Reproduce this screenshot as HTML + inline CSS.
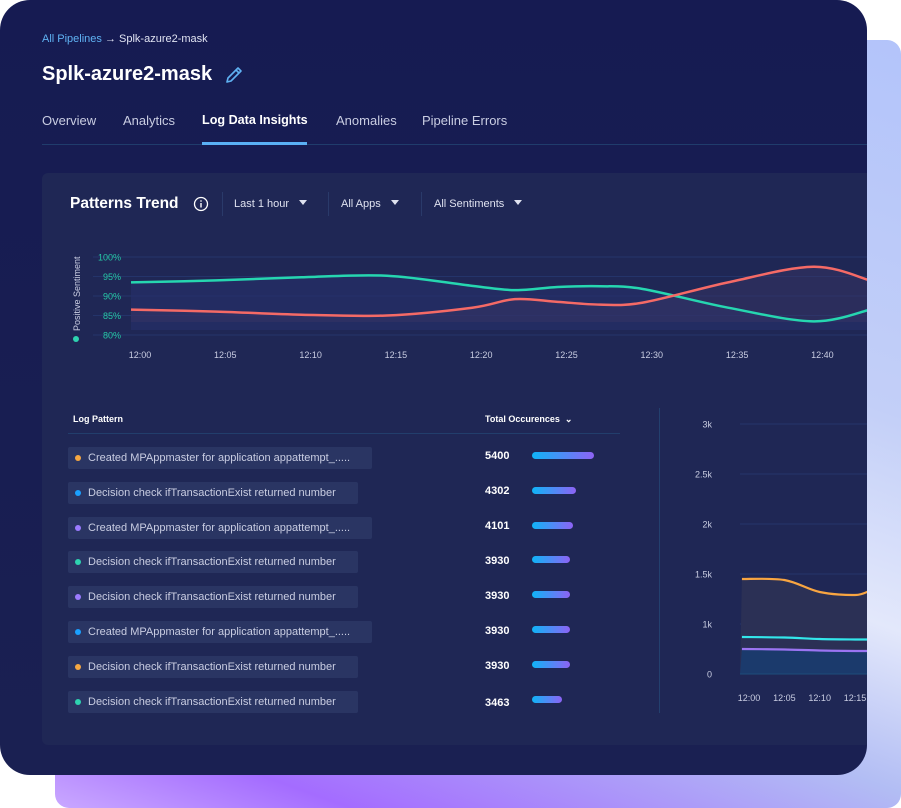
<!DOCTYPE html>
<html><head><meta charset="utf-8">
<style>
*{box-sizing:border-box;margin:0;padding:0}
body{width:901px;height:808px;background:#fff;position:relative;overflow:hidden;font-family:"Liberation Sans",sans-serif}
.abs{position:absolute}
#bgcard{left:55px;top:40px;width:846px;height:768px;border-radius:14px;background:linear-gradient(200deg,#b3c4fa 0%,#c3cff8 35%,#e3e8fb 55%,#b2bdf4 70%,#a46cff 90%,#c9a8ff 100%)}
#main{left:0;top:0;width:867px;height:775px;border-radius:30px;background:linear-gradient(180deg,#161b52 0%,#1a2052 100%);overflow:hidden}
#panel{left:42px;top:173px;width:840px;height:572px;border-radius:6px;background:#1f2755}
.t{position:absolute;white-space:nowrap}
.pill{position:absolute;left:68px;height:22px;background:#2a3563;border-radius:2px;color:#c9cde2;font-size:11px;line-height:22px;padding-left:20px}
.pill i{position:absolute;left:7px;top:8px;width:6px;height:6px;border-radius:50%}
.num{position:absolute;left:485px;color:#fff;font-weight:bold;font-size:11px;line-height:12px}
.bar{position:absolute;left:532px;height:7px;border-radius:4px;background:linear-gradient(90deg,#0fb4f7,#8d63f5)}
.tri{display:inline-block;width:0;height:0;border-left:4px solid transparent;border-right:4px solid transparent;border-top:5px solid #dfe2f0;margin-left:10px;vertical-align:2px}
</style></head><body>
<div id="bgcard" class="abs"></div>
<div id="main" class="abs">
  <div class="t" style="left:42px;top:33px;font-size:11px;color:#e0e3f2"><span style="color:#5fb2f3">All Pipelines</span> → Splk-azure2-mask</div>
  <div class="t" style="left:42px;top:63px;font-size:20px;font-weight:bold;color:#fff">Splk-azure2-mask</div>
  <svg class="abs" style="left:224px;top:65px" width="20" height="20" viewBox="0 0 20 20"><path d="M3 17 L4 13 L14 3 L17 6 L7 16 Z M12 5 L15 8" fill="none" stroke="#5fb2f3" stroke-width="1.6" stroke-linejoin="round"/></svg>
  <div class="t" style="left:42px;top:113px;font-size:13px;color:#c9cde2">Overview</div>
  <div class="t" style="left:123px;top:113px;font-size:13px;color:#c9cde2">Analytics</div>
  <div class="t" style="left:202px;top:113px;font-size:12.6px;color:#fff;font-weight:bold">Log Data Insights</div>
  <div class="t" style="left:336px;top:113px;font-size:13px;color:#c9cde2">Anomalies</div>
  <div class="t" style="left:422px;top:113px;font-size:13px;color:#c9cde2">Pipeline Errors</div>
  <div class="abs" style="left:42px;top:144px;width:830px;height:1px;background:#203c6c"></div>
  <div class="abs" style="left:202px;top:142px;width:105px;height:3px;background:#5ab0f5"></div>

  <div id="panel" class="abs"></div>
  <div class="t" style="left:70px;top:195px;font-size:15.5px;font-weight:bold;color:#fff">Patterns Trend</div>
  <svg class="abs" style="left:193px;top:196px" width="16" height="16"><circle cx="8" cy="8" r="6.5" fill="none" stroke="#fff" stroke-width="1.3"/><rect x="7.3" y="7" width="1.4" height="4.5" fill="#fff"/><rect x="7.3" y="4.3" width="1.4" height="1.4" fill="#fff"/></svg>
  <div class="abs" style="left:222px;top:192px;width:1px;height:24px;background:#2a3a6a"></div>
  <div class="abs" style="left:328px;top:192px;width:1px;height:24px;background:#2a3a6a"></div>
  <div class="abs" style="left:421px;top:192px;width:1px;height:24px;background:#2a3a6a"></div>
  <div class="t" style="left:234px;top:198px;font-size:11px;color:#dfe2f0">Last 1 hour<span class="tri"></span></div>
  <div class="t" style="left:341px;top:198px;font-size:11px;color:#dfe2f0">All Apps<span class="tri"></span></div>
  <div class="t" style="left:434px;top:198px;font-size:11px;color:#dfe2f0">All Sentiments<span class="tri"></span></div>

  <svg id="trend" class="abs" style="left:0;top:0" width="867" height="775"></svg>

  <div class="t" style="left:73px;top:414px;font-size:9px;font-weight:bold;color:#fff">Log Pattern</div>
  <div class="t" style="left:485px;top:414px;font-size:9px;font-weight:bold;color:#fff">Total Occurences &nbsp;⌄</div>
  <div class="abs" style="left:68px;top:433px;width:552px;height:1px;background:#223e6c"></div>
  <div id="rows"></div>
  <div class="abs" style="left:659px;top:408px;width:1px;height:305px;background:#23406e"></div>
</div>
<script>
// ---- Patterns trend data ----
const trendMinutes=[0,5,10,15,20,22.5,25,27.5,30,35,40,43];
const positiveSentiment=[93.5,94,94.8,95.2,92.6,91.5,92.3,92.5,91.8,87,83.5,86.5];
const negativeSeries=[86.5,86,85.2,85,87,89.2,88.5,87.8,88.3,93.5,97.5,94];
const trendYTicks=[100,95,90,85,80];
const trendXTicks=['12:00','12:05','12:10','12:15','12:20','12:25','12:30','12:35','12:40'];
// ---- Occurrence chart data ----
const occMinutes=[-1,5,10,15,17];
const occOrange=[1450,1440,1320,1290,1330];
const occCyan=[740,730,700,690,690];
const occPurple=[500,490,470,460,460];
const occYTicks=[0,1000,1500,2000,2500,3000];
const occYLabels=['0','1k','1.5k','2k','2.5k','3k'];
const occXTicks=['12:00','12:05','12:10','12:15'];
// ---- Table data ----
const patterns=['Created MPAppmaster for application appattempt_.....','Decision check ifTransactionExist returned number','Created MPAppmaster for application appattempt_.....','Decision check ifTransactionExist returned number','Decision check ifTransactionExist returned number','Created MPAppmaster for application appattempt_.....','Decision check ifTransactionExist returned number','Decision check ifTransactionExist returned number'];
const occurrences=[5400,4302,4101,3930,3930,3930,3930,3463];
const dotColors=['#f5a742','#1aa0ff','#9b7bff','#2ed3b0','#9b7bff','#1aa0ff','#f5a742','#2ed3b0'];

const NS='http://www.w3.org/2000/svg';
const svg=document.getElementById('trend');
function mk(tag,attrs,parent){const e=document.createElementNS(NS,tag);for(const k in attrs)e.setAttribute(k,attrs[k]);(parent||svg).appendChild(e);return e;}
function smooth(pts){let d='M'+pts[0][0]+','+pts[0][1];for(let i=0;i<pts.length-1;i++){const p0=pts[i-1]||pts[i],p1=pts[i],p2=pts[i+1],p3=pts[i+2]||p2;const c1=[p1[0]+(p2[0]-p0[0])/6,p1[1]+(p2[1]-p0[1])/6],c2=[p2[0]-(p3[0]-p1[0])/6,p2[1]-(p3[1]-p1[1])/6];d+=' C'+c1+' '+c2+' '+p2;}return d;}

// trend axes
const tx=m=>140+m*17.06, ty=v=>335-(v-80)*3.9;
trendYTicks.forEach(v=>{
  const l=mk('line',{x1:93,x2:867,y1:ty(v),y2:ty(v),stroke:'#24346a','stroke-width':1});
  
  
  const t=mk('text',{x:121,y:ty(v)+3.5,'text-anchor':'end','font-size':9,fill:'#26c9a6'});t.textContent=v+'%';
  
  
});
trendXTicks.forEach((s,i)=>{const t=mk('text',{x:tx(i*5),y:358,'text-anchor':'middle','font-size':9,fill:'#c9cde2'});t.textContent=s;
  
  });
const yl=mk('text',{transform:'translate(80,331) rotate(-90)','font-size':9,fill:'#c9cde2'});yl.textContent='Positive Sentiment';


mk('circle',{cx:76,cy:339,r:3,fill:'#2ed3b0'});
const gp=trendMinutes.map((m,i)=>[tx(m)-9,ty(positiveSentiment[i])]);
const rp=trendMinutes.map((m,i)=>[tx(m)-9,ty(negativeSeries[i])]);
gp[0][0]=131;rp[0][0]=131;
gp[gp.length-1][0]=870;rp[rp.length-1][0]=870;
mk('path',{d:smooth(gp)+' L870,330 L131,330 Z',fill:'#26306a',opacity:0.6});
mk('path',{d:smooth(rp)+' L870,322 L131,322 Z',fill:'#3a3666',opacity:0.45});
const gl=mk('path',{d:smooth(gp),fill:'none',stroke:'#26d6b0','stroke-width':2.5});


const rl=mk('path',{d:smooth(rp),fill:'none',stroke:'#f56a66','stroke-width':2.5});



// occurrence chart (axis: 0→1k spans 50px, then 100px per 1k)
const ox=m=>749+m*7.07;
const oy=v=>v<1000?674-v*0.05:624-(v-1000)*0.1;
occYTicks.forEach((v,i)=>{
  if(v>0){const l=mk('line',{x1:740,x2:867,y1:oy(v),y2:oy(v),stroke:'#24346a','stroke-width':1});
  
  }
  const t=mk('text',{x:712,y:oy(v)+3.5,'text-anchor':'end','font-size':9,fill:'#c9cde2'});t.textContent=occYLabels[i];
  
  
});
occXTicks.forEach((s,i)=>{const t=mk('text',{x:ox(i*5),y:701,'text-anchor':'middle','font-size':9,fill:'#c9cde2'});t.textContent=s;
  
  });
const op=occMinutes.map((m,i)=>[Math.max(740,ox(m)),oy(occOrange[i])]);
const cyp=occMinutes.map((m,i)=>[Math.max(740,ox(m)),oy(occCyan[i])]);
const pp=occMinutes.map((m,i)=>[Math.max(740,ox(m)),oy(occPurple[i])]);
mk('path',{d:smooth(op)+' L867,674 L740,674 Z',fill:'#2b3055'});
mk('path',{d:smooth(pp)+' L867,674 L740,674 Z',fill:'#1b3a6c'});
mk('line',{x1:740,x2:867,y1:oy(0),y2:oy(0),stroke:'#1d4c7a','stroke-width':1});
[[op,'#f8a541','occ-orange-line'],[cyp,'#33e6ea','occ-cyan-line'],[pp,'#9b74f2','occ-purple-line']].forEach(([p,c,n])=>{
  const l=mk('path',{d:smooth(p),fill:'none',stroke:c,'stroke-width':2.2});
  
  
});

// table rows
const rows=document.getElementById('rows');
const bw=v=>(v-1600)/3800*62;
patterns.forEach((p,i)=>{
  const y=447+i*34.8;
  const d=document.createElement('div');d.className='pill';d.style.top=y+'px';
  d.style.width=(p.startsWith('Created')?304:290)+'px';
  d.innerHTML='<i style="background:'+dotColors[i]+'"></i>'+p;
  
  
  rows.appendChild(d);
  const n=document.createElement('div');n.className='num';n.style.top=(y+3+(i>=3?1:0)+(i==7?2:0))+'px';n.textContent=occurrences[i];
  
  
  rows.appendChild(n);
  const b=document.createElement('div');b.className='bar';b.style.top=(y+5)+'px';b.style.width=bw(occurrences[i])+'px';
  
  
  rows.appendChild(b);
});
</script>
</body></html>
